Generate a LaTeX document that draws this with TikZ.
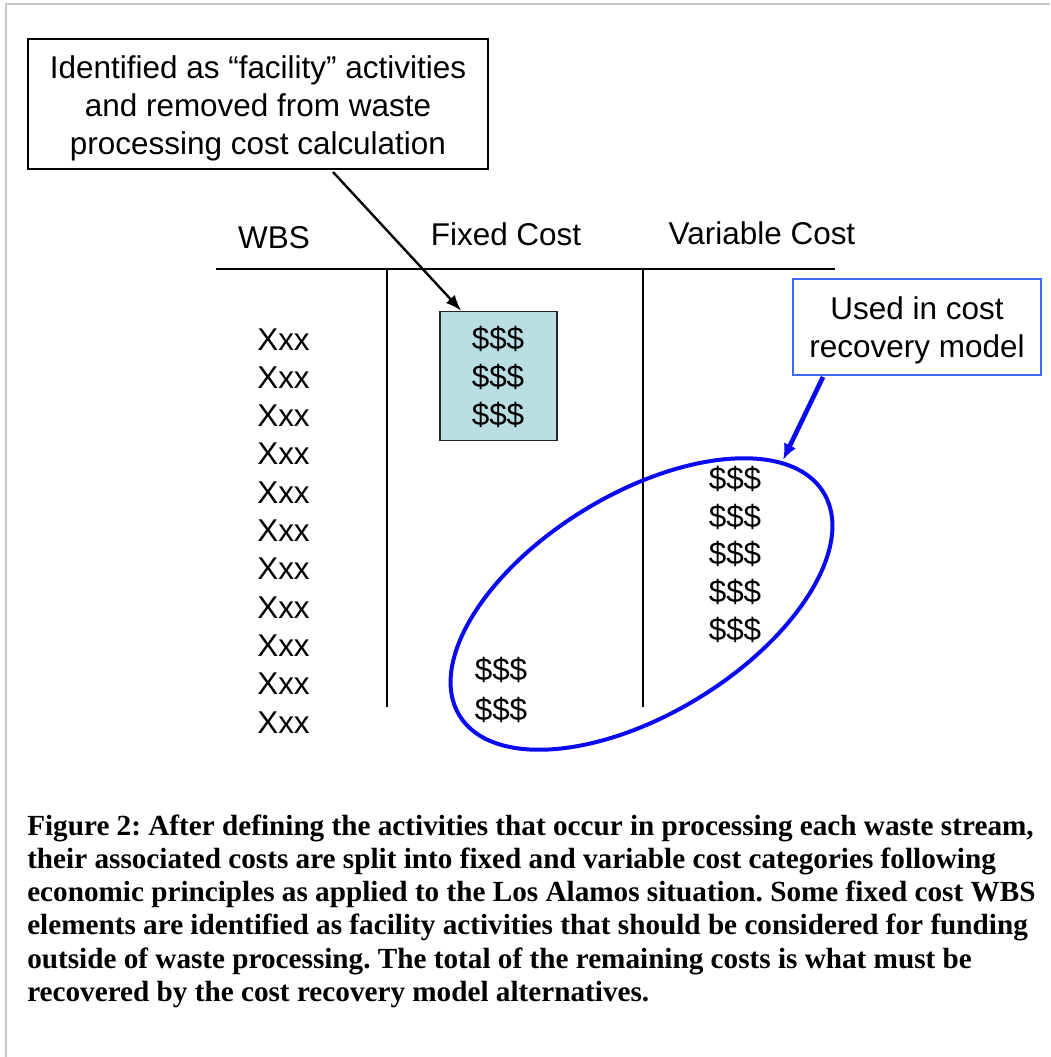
\documentclass[tikz,border=0pt]{standalone}
\usepackage{fontspec}
\setmainfont{Liberation Sans}
\newfontfamily\capfont{Liberation Serif}
\usetikzlibrary{arrows.meta,calc}
\definecolor{framegray}{RGB}{200,200,200}
\definecolor{penblue}{RGB}{10,10,240}
\definecolor{boxblue}{RGB}{60,105,245}
\definecolor{fixfill}{RGB}{185,223,227}
\frenchspacing
\begin{document}
\begin{tikzpicture}[x=0.75pt,y=-0.75pt,
  lbl/.style={font=\fontsize{23.6}{28.5}\selectfont, inner sep=0pt, anchor=base},
  rule/.style={line width=1.2pt},
  callout/.style={line width=1.1pt, inner sep=0pt, align=center,
    font=\fontsize{23.6}{28.5}\selectfont},
  captionline/.style={anchor=base west, inner sep=0pt,
    font=\capfont\bfseries\fontsize{21.9}{25.3}\selectfont},
]
\useasboundingbox (0,0) rectangle (1050,1057);
\fill[white] (0,0) rectangle (1050,1057);
% page frame (left and top edges)
\draw[framegray, line width=1.5pt] (6,1057) -- (6,4) -- (1050,4);

% callout boxes
\node (facbox) [callout, draw=black, minimum width=345pt, minimum height=97.5pt]
  at (258,104) {\rule{0pt}{23.3pt}Identified as “facility” activities\\and removed from waste\\processing cost calculation};
\node (usebox) [callout, draw=boxblue, line width=2.2pt, minimum width=186pt, minimum height=72pt]
  at (917,327) {\rule{0pt}{21.5pt}Used in cost\\recovery model};

% table headings and rules
\node[lbl] (hwbs) at (274,248) {WBS};
\node[lbl] (hfix) at (506,245) {Fixed Cost};
\node[lbl] (hvar) at (762,244) {Variable Cost};
\draw[rule] (216,269) -- (835,269);
\draw[rule] (387,269) -- (387,707);
\draw[rule] (643,269) -- (643,707);

% shaded facility block
\node (fixbox) [draw=black!85, fill=fixfill, line width=1pt, inner sep=0pt,
  minimum width=87.75pt, minimum height=96.75pt] at (498.5,376) {};

% WBS column
\foreach \k in {0,...,10}
  \node[lbl] (wbs\k) at (283.5,{350+38.3*\k}) {Xxx};

% fixed cost entries
\foreach \k in {0,1,2}
  \node[lbl] (fix\k) at (498,{349+38*\k}) {\$\$\$};
\node[lbl] (fix3) at (501,680.5) {\$\$\$};
\node[lbl] (fix4) at (501,720.5) {\$\$\$};

% variable cost entries
\node[lbl] (var0) at (735,489) {\$\$\$};
\node[lbl] (var1) at (735,527) {\$\$\$};
\node[lbl] (var2) at (735,564.5) {\$\$\$};
\node[lbl] (var3) at (735,602) {\$\$\$};
\node[lbl] (var4) at (735,640.5) {\$\$\$};

% ring round the recovered costs
\draw[penblue, line width=3pt] (641.5,604) ellipse [x radius=213.5, y radius=110, rotate=31.5];

% connectors
\coordinate (facfoot) at (333,172);
\draw[line width=1.8pt, -{Latex[length=12pt,width=9pt]}]
  (facfoot) -- ($(fixbox.north west)+(22,0)$);
\coordinate (usefoot) at (823,377);
\coordinate (ringtop) at (783,460);
\draw[penblue, line width=3.5pt, -{Latex[length=12pt,width=10pt]}] (usefoot) -- (ringtop);

% caption
\node[captionline] (cap1) at (27,835) {Figure 2: After defining the activities that occur in processing each waste stream,};
\node[captionline] (cap2) at (27,868.3) {their associated costs are split into fixed and variable cost categories following};
\node[captionline] (cap3) at (27,901.6) {economic principles as applied to the Los Alamos situation. Some fixed cost WBS};
\node[captionline] (cap4) at (27,934.9) {elements are identified as facility activities that should be considered for funding};
\node[captionline] (cap5) at (27,968.2) {outside of waste processing. The total of the remaining costs is what must be};
\node[captionline] (cap6) at (27,1001.5) {recovered by the cost recovery model alternatives.};
\end{tikzpicture}
\end{document}
